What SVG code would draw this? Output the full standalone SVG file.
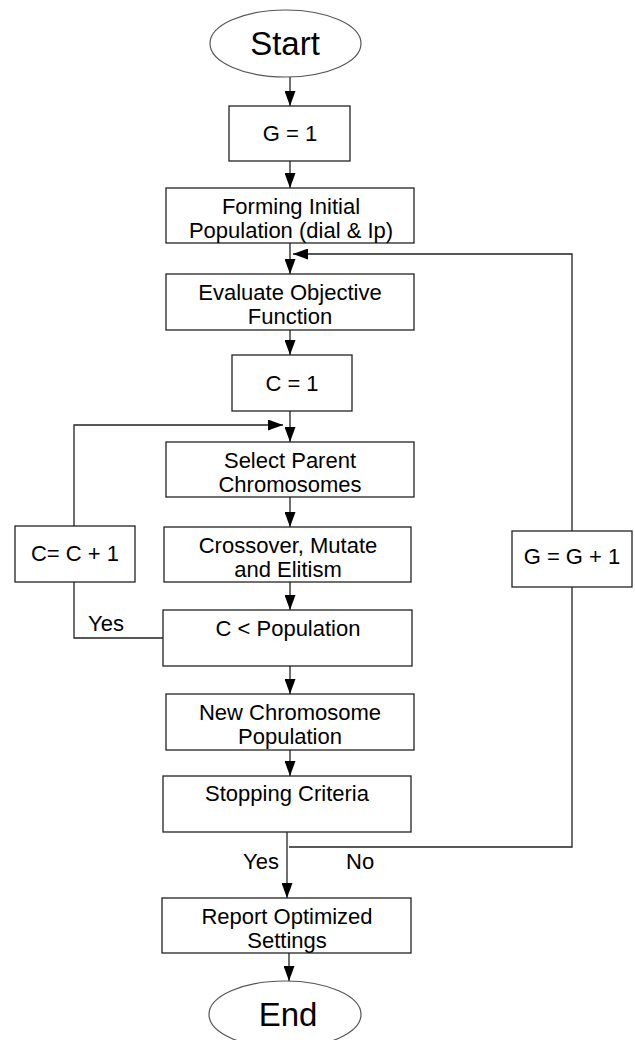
<svg xmlns="http://www.w3.org/2000/svg" width="635" height="1040" viewBox="0 0 635 1040">
<style>
  .box{fill:#fff;stroke:#222;stroke-width:1.3}
  .ell{fill:#fff;stroke:#555;stroke-width:1.2}
  .t{font-family:"Liberation Sans",Arial,sans-serif;font-size:22px;fill:#000;text-anchor:middle}
  .big{font-size:33px}
  .lbl{text-anchor:start}
  .c{fill:none;stroke:#222;stroke-width:1.3}
</style>
<defs>
  <marker id="ah" viewBox="0 0 15 11" refX="15" refY="5.5" markerWidth="15" markerHeight="11" markerUnits="userSpaceOnUse" orient="auto">
    <path d="M0,0 L15,5.5 L0,11 Z" fill="#000"/>
  </marker>
</defs>
<rect width="635" height="1040" fill="#fff"/>

<g id="connectors">
  <path class="c" d="M290,77 V106" marker-end="url(#ah)"/>
  <path class="c" d="M290,161 V188" marker-end="url(#ah)"/>
  <path class="c" d="M290,243 V274" marker-end="url(#ah)"/>
  <path class="c" d="M290,330 V355" marker-end="url(#ah)"/>
  <path class="c" d="M290,411 V442" marker-end="url(#ah)"/>
  <path class="c" d="M290,497 V527" marker-end="url(#ah)"/>
  <path class="c" d="M290,582 V610" marker-end="url(#ah)"/>
  <path class="c" d="M290,666 V694" marker-end="url(#ah)"/>
  <path class="c" d="M290,750 V776" marker-end="url(#ah)"/>
  <path class="c" d="M287,832 V898" marker-end="url(#ah)"/>
  <path class="c" d="M289,953 V981" marker-end="url(#ah)"/>
  <!-- left loop -->
  <path class="c" d="M163,638 H74 V582"/>
  <path class="c" d="M74,526 V425 H283" marker-end="url(#ah)"/>
  <!-- right loop -->
  <path class="c" d="M289,847 H572 V587"/>
  <path class="c" d="M572,531 V254 H293" marker-end="url(#ah)"/>
  <text class="t lbl" x="88" y="631">Yes</text>
  <text class="t lbl" x="243" y="869">Yes</text>
  <text class="t lbl" x="346" y="869">No</text>
</g>

<g id="start">
  <ellipse class="ell" cx="285.5" cy="43.5" rx="75.5" ry="33.5"/>
  <text class="t big" x="285" y="55">Start</text>
</g>
<g id="g1">
  <rect class="box" x="229" y="106" width="121" height="55"/>
  <text class="t" x="290" y="141">G = 1</text>
</g>
<g id="forming">
  <rect class="box" x="166" y="188" width="248" height="55"/>
  <text class="t" x="291" y="214">Forming Initial</text>
  <text class="t" x="291" y="238">Population (dial &amp; Ip)</text>
</g>
<g id="evaluate">
  <rect class="box" x="166" y="274" width="248" height="56"/>
  <text class="t" x="290" y="300">Evaluate Objective</text>
  <text class="t" x="290" y="324">Function</text>
</g>
<g id="c1">
  <rect class="box" x="232" y="355" width="120" height="56"/>
  <text class="t" x="292" y="391">C = 1</text>
</g>
<g id="select">
  <rect class="box" x="166" y="442" width="248" height="55"/>
  <text class="t" x="290" y="468">Select Parent</text>
  <text class="t" x="290" y="492">Chromosomes</text>
</g>
<g id="crossover">
  <rect class="box" x="164" y="527" width="247" height="55"/>
  <text class="t" x="288" y="553">Crossover, Mutate</text>
  <text class="t" x="288" y="577">and Elitism</text>
</g>
<g id="cinc">
  <rect class="box" x="15" y="526" width="120" height="56"/>
  <text class="t" x="75" y="561">C= C + 1</text>
</g>
<g id="cpop">
  <rect class="box" x="163" y="610" width="249" height="56"/>
  <text class="t" x="288" y="636">C &lt; Population</text>
</g>
<g id="newpop">
  <rect class="box" x="166" y="694" width="248" height="56"/>
  <text class="t" x="290" y="720">New Chromosome</text>
  <text class="t" x="290" y="744">Population</text>
</g>
<g id="stopping">
  <rect class="box" x="163" y="776" width="248" height="56"/>
  <text class="t" x="287" y="801">Stopping Criteria</text>
</g>
<g id="ginc">
  <rect class="box" x="512" y="531" width="120" height="56"/>
  <text class="t" x="572" y="564">G = G + 1</text>
</g>
<g id="report">
  <rect class="box" x="162" y="898" width="249" height="55"/>
  <text class="t" x="287" y="924">Report Optimized</text>
  <text class="t" x="287" y="948">Settings</text>
</g>
<g id="end">
  <ellipse class="ell" cx="285" cy="1014.5" rx="76" ry="33.5"/>
  <text class="t big" x="288" y="1026">End</text>
</g>
</svg>
